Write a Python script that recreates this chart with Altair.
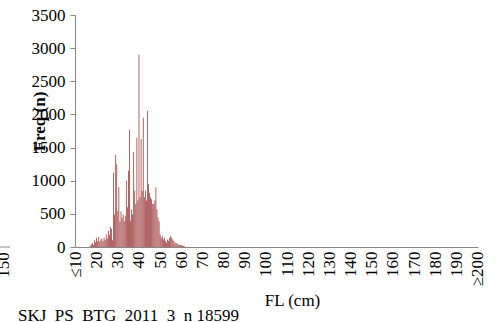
import altair as alt
import pandas as pd

# FL bin starts (0.5 cm bins) and frequencies
fl_start = 17.0
freq = [20, 40, 60, 30, 110, 70, 140, 90, 150, 80,
        115, 130, 90, 140, 110, 190, 130, 240, 180, 300,
        270, 100, 1120, 490, 1390, 1250, 540, 900, 390, 540,
        440, 490, 390, 470, 1000, 600, 1150, 1765, 400, 570,
        490, 1430, 850, 650, 1650, 700, 2900, 750, 1630, 850,
        1950, 750, 850, 700, 2050, 950, 820, 750, 720, 650,
        650, 700, 900, 570, 440, 390, 190, 140, 170, 115,
        140, 90, 65, 115, 90, 140, 170, 140, 115, 90,
        65, 65, 50, 40, 30, 30, 30, 20, 15, 10]
fl = [fl_start + 0.5 * i for i in range(len(freq))]

x_ticks = [10, 20, 30, 40, 50, 60, 70, 80, 90, 100, 110, 120, 130, 140, 150, 160, 170, 180, 190, 200]
y_ticks = [0, 500, 1000, 1500, 2000, 2500, 3000, 3500]

caption = ["SKJ_PS_BTG_2011_3_n 18599"]
cut_label = ["150"]

df = pd.DataFrame({"fl": fl, "freq": freq})

FONT = "Liberation Serif"
GRAY = "#868686"
FS = 17

bars = alt.Chart(df).transform_calculate(
    lo="datum.fl - 0.16", hi="datum.fl + 0.16"
).mark_bar(color="#8E1C1C").encode(
    x=alt.X("lo:Q",
            scale=alt.Scale(domain=[9.75, 200.25], nice=False, zero=False),
            axis=alt.Axis(values=x_ticks,
                          labelExpr="datum.value == 10 ? '≤10' : (datum.value == 200 ? '≥200' : datum.label)",
                          labelAngle=-90, labelAlign="right", labelBaseline="middle",
                          labelPadding=4, labelFontSize=FS, labelFont=FONT, labelColor="black",
                          labelOverlap=False, labelFlush=False,
                          ticks=False, grid=False, domainColor=GRAY,
                          title="FL (cm)", titleFont=FONT, titleFontSize=FS,
                          titleFontWeight="normal", titleColor="black",
                          titleX=217, titleY=58, titleAlign="center",
                          titleBaseline="alphabetic")),
    x2="hi:Q",
    y=alt.Y("freq:Q",
            scale=alt.Scale(domain=[0, 3500], nice=False),
            axis=alt.Axis(values=y_ticks, format="d", tickSize=5, tickColor=GRAY, domainColor=GRAY,
                          labelPadding=5, labelFontSize=FS, labelFont=FONT, labelColor="black",
                          grid=False, title="Freq (n)", titleFont=FONT, titleFontSize=FS,
                          titleFontWeight="bold", titleColor="black", titleAngle=-90,
                          titleX=-36, titleY=106, titleAlign="center",
                          titleBaseline="middle")),
    y2=alt.datum(0),
)

cap = alt.Chart(pd.DataFrame({"t": caption})).mark_text(
    font=FONT, fontSize=FS, align="left", baseline="alphabetic", color="black"
).encode(text="t:N", x=alt.value(-57), y=alt.value(306))

cut = alt.Chart(pd.DataFrame({"t": cut_label})).mark_text(
    font=FONT, fontSize=FS, align="center", baseline="alphabetic", angle=270, color="black"
).encode(text="t:N", x=alt.value(-66), y=alt.value(250))

stub = alt.Chart(pd.DataFrame({"t": cut_label})).mark_rule(color=GRAY).encode(
    x=alt.value(-80), x2=alt.value(-65), y=alt.value(232))

chart = alt.layer(bars, cap, cut, stub).properties(
    width=403, height=232,
    padding={"left": 75, "top": 15, "right": 22, "bottom": 75},
    autosize="none",
    background="white",
).configure(font=FONT).configure_view(stroke=None)

chart.save("out.html", embed_options={"renderer": "svg", "actions": False})
